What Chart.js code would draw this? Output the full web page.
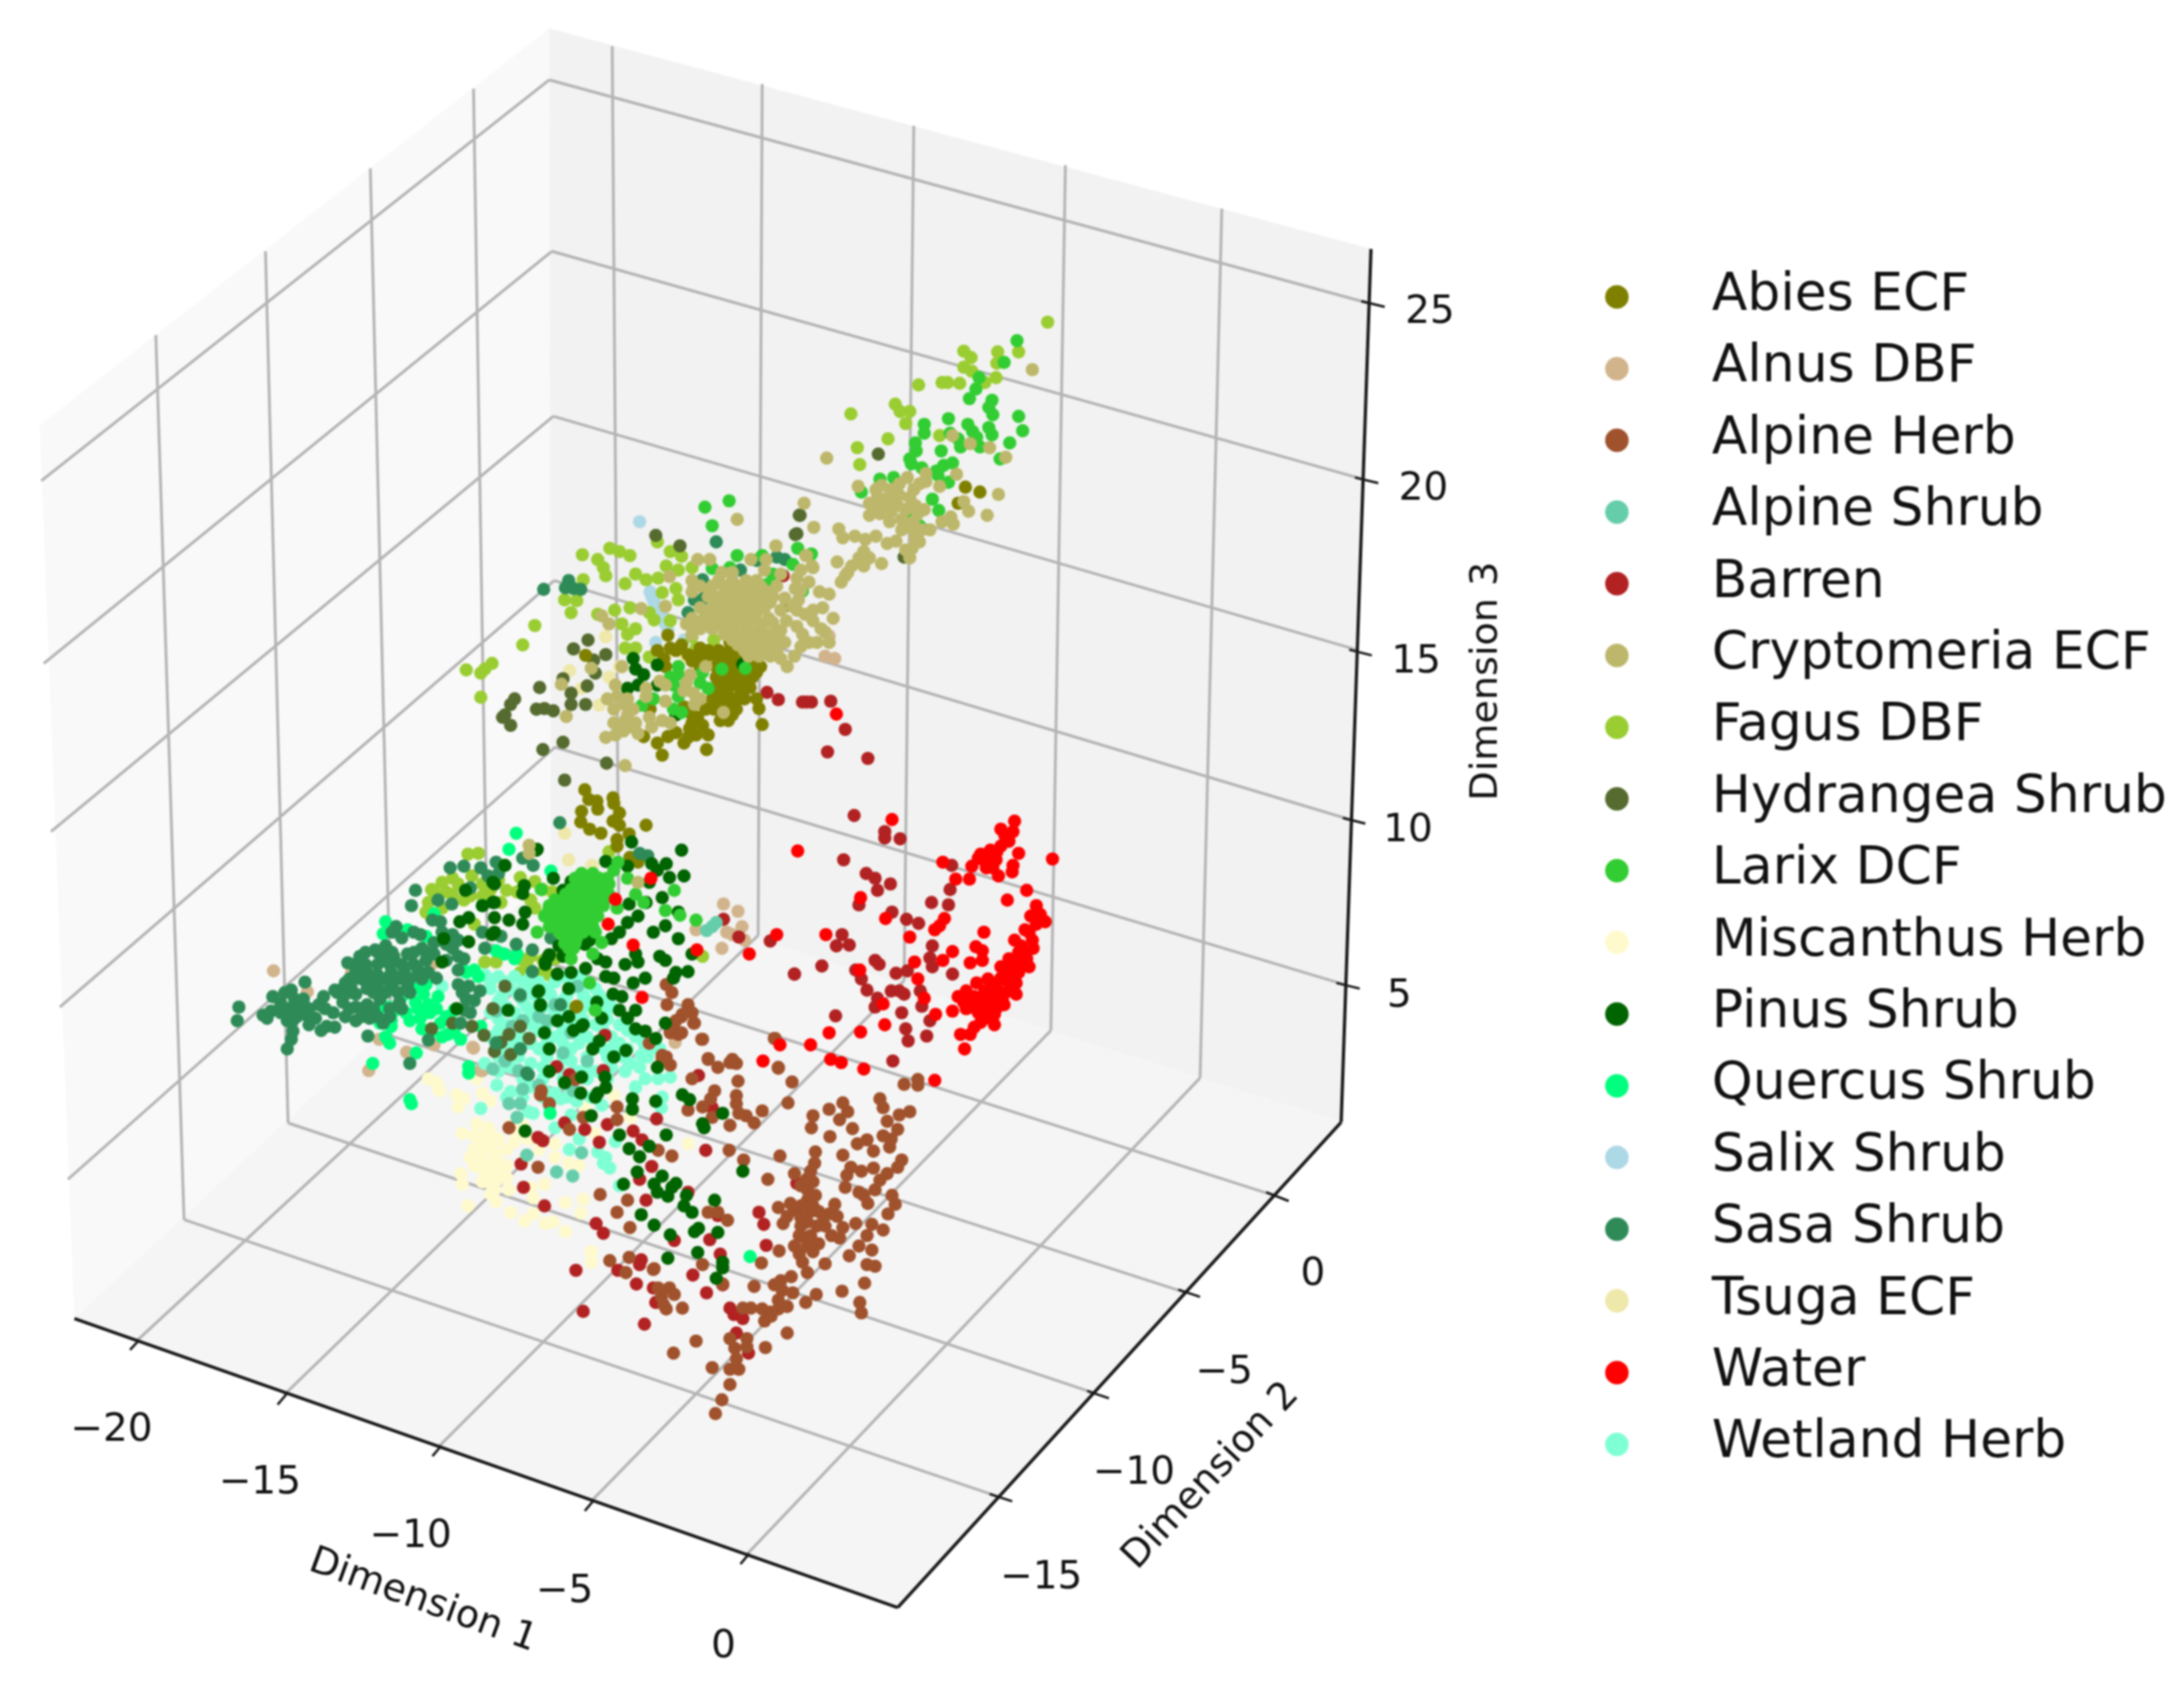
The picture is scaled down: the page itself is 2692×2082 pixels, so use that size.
<!DOCTYPE html>
<html>
<head>
<meta charset="utf-8">
<title>Dimension scatter</title>
<script src="https://cdn.jsdelivr.net/npm/chart.js@4"></script>
<style>
  html, body { margin: 0; padding: 0; background: #fff; }
  canvas { display: block; filter: blur(1px); }
</style>
</head>
<body>
<canvas id="chart" width="2692" height="2082"></canvas>
<script>
// Legend order
const categories = ['Abies ECF', 'Alnus DBF', 'Alpine Herb', 'Alpine Shrub', 'Barren', 'Cryptomeria ECF',
  'Fagus DBF', 'Hydrangea Shrub', 'Larix DCF', 'Miscanthus Herb', 'Pinus Shrub', 'Quercus Shrub',
  'Salix Shrub', 'Sasa Shrub', 'Tsuga ECF', 'Water', 'Wetland Herb'];

const dim1Ticks = ['\u221220', '\u221215', '\u221210', '\u22125', '0'];
const dim2Ticks = ['0', '\u22125', '\u221210', '\u221215'];
const dim3Ticks = ['25', '20', '15', '10', '5'];

// Point positions (image pixels)
const abiesECF = [[897,790],[870,800],[883,800],[897,800],[910,800],[850,813],[863,813],[883,813],[903,813],[927,813],
  [887,827],[903,827],[920,827],[930,827],[887,840],[903,840],[917,840],[877,853],[893,853],[910,853],[883,867],[903,867],[887,880],[900,880],
  [820,781],[807,800],[823,797],[837,793],[817,820],[930,860],[933,872],[937,892],[867,873],[857,883],[847,897],[863,893],[845,908],[830,902],
  [820,907],[807,915],[813,930],[868,923],[790,907],[798,873],[969,744],[944,798],[718,806],[1189,597],[1207,603],[1180,617],
  [717,973],[722,985],[732,987],[733,997],[713,1000],[712,1013],[723,1022],[737,1027],[752,983],[753,990],[760,1002],[752,1012],[760,1017],
  [793,1017],[772,1028],[757,1035],[757,1043],[773,1057],[783,1063],[707,1242],[706,1243],
  [855,806],[870,806],[890,806],[905,806],[918,806],[860,820],[880,820],[895,820],[912,820],[925,820],[935,820],[880,833],[895,833],[912,833],[925,833],
  [880,846],[895,846],[910,846],[922,846],[875,860],[888,860],[900,860],[915,860],[877,873],[893,873],[905,873],[885,887],[895,887],
  [830,800],[815,810],[845,805],[860,797],[840,870],[850,890],[855,905],[840,915],[870,905],[850,880]];

const alnusDBF = [[1020,782],[1015,807],[1027,810],[889,1115],[907,1124],[855,1147],[912,1143],[893,1150],[900,1153],[887,1170],[915,1160],
  [331,1198],[373,1224],[462,1283],[496,1299],[449,1322],[578,1293],[428,1200],[530,1290],[527,1190],[579,1294],[588,1322],[829,1287],[590,1322]];

const alpineHerb = [[828,1263],[837,1255],[852,1263],[833,1277],[823,1273],[863,1283],[797,1288],[818,1305],[823,1315],[813,1307],[870,1307],[882,1318],
  [897,1312],[905,1313],[907,1335],[850,1332],[878,1347],[873,1357],[863,1367],[845,1371],[875,1380],[905,1353],[905,1363],[908,1375],[897,1390],
  [917,1378],[927,1387],[937,1372],[952,1282],[957,1319],[974,1336],[969,1362],[896,1421],[914,1433],[959,1428],[944,1457],[808,1421],[825,1428],
  [1003,1423],[1002,1437],[997,1447],[977,1450],[992,1457],[993,1470],[993,1483],[1003,1477],[997,1497],[1007,1497],[993,1510],[1013,1503],[1027,1488],
  [1030,1503],[1037,1517],[1023,1527],[1033,1530],[983,1527],[997,1527],[977,1540],[993,1540],[1007,1537],[983,1550],[1000,1547],[987,1560],[993,1573],
  [1015,1562],[957,1492],[972,1487],[977,1495],[968,1503],[963,1512],[1000,1378],[998,1393],[1020,1370],[1037,1362],[1043,1373],[1033,1383],[1049,1394],
  [1021,1404],[1083,1357],[1087,1368],[1092,1385],[1107,1377],[1120,1373],[1105,1395],[1087,1403],[1097,1407],[1095,1417],[1055,1413],[1067,1408],
  [1075,1422],[1037,1427],[1110,1433],[1105,1442],[1047,1442],[1042,1452],[1040,1467],[1060,1447],[1075,1443],[1092,1450],[1083,1458],[1077,1470],
  [1063,1477],[1057,1473],[1068,1487],[1098,1477],[1102,1488],[1093,1500],[1053,1512],[1073,1513],[1087,1520],[1067,1527],[1057,1540],[1045,1552],
  [1073,1545],[1067,1563],[1077,1565],[1064,1586],[1036,1596],[1058,1610],[1060,1623],[1004,1600],[991,1610],[973,1578],[960,1583],[952,1588],[962,1595],
  [975,1598],[957,1607],[968,1615],[957,1618],[947,1622],[937,1618],[923,1617],[913,1617],[940,1633],[948,1627],[968,1648],[941,1666],[918,1655],
  [897,1655],[903,1667],[918,1665],[905,1680],[897,1693],[908,1693],[875,1691],[897,1712],[887,1731],[879,1748],[855,1658],[827,1673],[927,1590],
  [936,1561],[958,1546],[863,1563],[888,1587],[870,1498],[882,1498],[894,1508],[803,1568],[808,1592],[822,1592],[828,1600],[812,1603],[818,1618],
  [838,1617],[815,1613],[662,1352],[673,1363],[705,1333],[715,1380],[698,1395],[623,1393],[659,1442],[736,1476],[757,1367],[757,1383],[770,1483],
  [757,1498],[773,1517],[748,1558],[772,1554],[768,1573],[802,1569],[870,1308],[663,1347],[818,1215],[825,1225],[819,1240],[845,1240],[850,1250],
  [838,1252],[830,1260],[853,1263],[823,1275],[837,1275],[862,1283],[813,1303],[900,1308],[953,1282],[1113,1339],[1130,1333],[1130,1340],[900,1312],[957,1318],
  [985,1465],[1000,1460],[985,1490],[1000,1490],[985,1505],[1005,1515],[985,1515],[1000,1535],[1015,1515],[990,1530],[1020,1500]];

const alpineShrub = [[875,1143],[868,1148],[880,1138],[603,1320],[635,1322],[623,1363],[637,1363],[633,1380],[645,1427],[682,1448],[702,1453],[713,1424],
  [692,1338],[703,1347],[637,1230],[708,1217],[607,1248],[627,1267],[670,1260],[607,1287],[637,1295],
  [640,1345],[660,1340],[618,1310],[690,1300],[720,1310],[660,1255],[680,1240],[640,1260],[700,1275]];

const barren = [[963,707],[943,852],[957,861],[992,864],[998,864],[987,864],[1022,863],[1018,926],[889,1134],[908,1156],[947,1161],[977,1202],[742,1278],
  [682,1317],[740,1322],[698,1327],[692,1387],[717,1395],[745,1389],[659,1405],[665,1409],[735,1411],[777,1397],[788,1408],[806,1382],[800,1441],
  [785,1457],[867,1421],[638,1438],[641,1467],[667,1490],[793,1483],[731,1512],[740,1524],[845,1473],[882,1502],[828,1533],[872,1532],[885,1550],
  [787,1557],[785,1563],[758,1570],[706,1570],[781,1587],[851,1576],[868,1598],[888,1588],[875,1368],[858,1328],[933,1498],[939,1513],[942,1539],
  [980,1462],[791,1637],[897,1617],[902,1625],[913,1630],[905,1648],[920,1673],[805,1610],[715,1621],[802,1592],
  [1051,1005],[1089,1025],[1089,1033],[1108,1034],[1038,1060],[1066,1077],[1077,1083],[1080,1098],[1096,1090],[1057,1116],[1098,1125],[1116,1134],
  [1131,1139],[1172,1067],[1170,1097],[1168,1116],[1147,1113],[1036,1153],[1029,1167],[1045,1166],[1148,1167],[1145,1182],[1148,1193],[1173,1202],
  [1077,1185],[1082,1190],[1103,1201],[1117,1198],[1011,1192],[977,1202],[1053,1197],[1060,1208],[1067,1222],[1080,1232],[1077,1243],[1097,1223],
  [1113,1227],[1107,1223],[1133,1223],[1135,1242],[1110,1250],[1145,1260],[1028,1254],[1115,1270],[1118,1285],[1141,1279],[1099,1310],[1040,898],[1068,934]];

const cryptomeriaECF = [[1272,451],[1173,533],[1195,543],[1219,548],[1239,560],[1017,561],[1178,581],[1157,596],[1056,596],[1230,606],[1187,615],[1193,627],
  [1216,632],[1171,634],[1174,643],[1160,640],[1145,650],[1117,585],[1140,580],[1140,590],[1132,593],[1107,593],[1097,600],[1078,600],[1070,617],[1080,610],
  [1093,610],[1107,607],[1120,610],[1127,620],[1138,625],[1070,632],[1083,630],[1097,627],[1110,637],[1120,647],[1127,660],[1123,673],[1132,665],[1032,649],
  [1037,660],[1052,658],[1065,662],[1078,658],[1092,667],[1103,664],[1063,677],[1057,685],[1070,685],[1048,695],[1085,692],[989,617],[1001,647],[991,682],
  [999,695],[1063,695],[906,637],[954,670],[992,682],[1000,697],[1043,703],[1040,707],[980,710],[978,723],[1008,727],[982,737],[1012,747],[980,750],[967,763],
  [1000,763],[980,770],[1010,773],[987,780],[1015,777],[857,687],[872,687],[923,687],[942,687],[887,703],[900,703],[850,713],[883,713],[900,713],[917,713],
  [930,713],[850,727],[873,727],[893,727],[910,727],[927,727],[943,727],[883,740],[897,740],[913,740],[930,740],[947,740],[867,753],[883,753],[897,753],
  [913,753],[930,753],[843,767],[857,767],[873,767],[887,767],[903,767],[920,767],[937,767],[850,780],[890,780],[910,780],[927,780],[943,780],[953,780],
  [907,793],[920,793],[933,793],[950,793],[920,807],[933,807],[947,807],[977,807],[822,708],[852,722],[817,745],[787,748],[738,757],[747,767],[763,820],
  [725,822],[688,842],[694,882],[755,843],[757,857],[753,873],[767,867],[777,873],[753,890],[767,887],[780,890],[783,903],[797,883],[813,887],[823,890],
  [810,838],[817,843],[793,847],[793,857],[817,863],[843,840],[848,830],[852,853],[853,867],[867,820],[889,877],[743,908],[767,943],[648,1042],[648,1052],
  [783,1088],
  [860,720],[875,720],[890,720],[905,720],[920,720],[935,720],[870,733],[885,733],[900,733],[917,733],[935,733],[950,733],[860,747],[875,747],[890,747],[905,747],
  [920,747],[940,747],[850,760],[865,760],[880,760],[895,760],[910,760],[925,760],[945,760],[860,773],[875,773],[897,773],[918,773],[935,773],[900,787],[915,787],
  [930,787],[945,787],[955,787],[915,800],[930,800],[940,800],[955,800],[770,880],[765,900],[745,860],[770,860],[755,905],[800,895],[840,850],[860,860],[775,895],
  [1085,595],[1100,615],[1115,625],[1095,640],[1105,620],[1075,625],[1130,630],[1135,650],[1125,640],[1110,650],[1085,620],[1125,600],[1120,685],[1115,675],
  [955,720],[965,735],[960,750],[950,765],[960,775],[965,790],[940,700],[960,705],[975,745],[990,755],[1000,750],[1005,790],[995,790],[985,795],[1020,790],
  [968,820],[960,810],[985,700],[985,725],[995,715],[1030,690],[1035,715],[1020,730],[1025,760]];

const fagusDBF = [[1291,392],[1187,428],[1196,436],[1229,429],[1255,429],[1228,443],[1187,448],[1197,453],[1227,461],[1213,467],[1131,470],[1160,467],[1167,467],
  [1182,468],[1102,494],[1108,503],[1120,503],[1115,518],[1047,506],[1093,537],[1055,548],[1058,569],[1157,533],
  [714,681],[748,673],[760,677],[773,682],[733,687],[740,697],[743,707],[715,712],[692,737],[707,738],[700,753],[655,769],[640,793],[570,824],[588,828],
  [602,816],[593,823],[588,858],[733,755],[754,750],[773,747],[797,753],[803,762],[763,767],[780,773],[770,780],[767,797],[780,797],[797,808],[767,717],
  [780,705],[793,712],[808,710],[818,695],[823,677],[837,683],[833,700],[850,697],[813,728],[830,723],[833,737],[823,763],[850,783],[855,797],[877,787],
  [883,740],[807,665],[527,1097],[540,1088],[553,1083],[577,1080],[590,1090],[600,1097],[620,1098],[613,1113],[637,1082],[655,1087],[527,1133],[580,1140],
  [593,1187],[607,1187],[637,1200],[665,1097],[673,1203],[523,1113],[680,1183],[710,1253],[572,1053],[585,1052],[553,1103],[567,1110],[863,1180],[747,1050],
  [667,1197],[650,1180],[637,1183],[633,1100],[677,1100],
  [530,1100],[545,1100],[540,1120],[600,1110],[640,1095],[650,1110],[655,1120],[520,1125],[560,1090],[575,1105],[590,1105],[610,1085],[640,1210],[655,1205],[645,1190],[665,1185]];

const hydrangeaShrub = [[1081,556],[1113,684],[984,632],[980,655],[983,632],[978,656],[835,670],[805,657],[721,787],[703,798],[743,805],[728,812],[730,828],
  [690,835],[661,846],[720,844],[700,853],[700,867],[718,867],[630,860],[625,867],[618,880],[615,883],[625,893],[657,873],[667,872],[678,875],[690,914],
  [665,923],[744,940],[692,961],[618,1217],[603,1245],[637,1267],[648,1282],[592,1278],[625,1302],[605,1298],[623,1277],[613,1287],[527,1270],[553,1263],[577,1267]];

const larixDCF = [[1253,415],[1237,442],[1206,461],[1202,475],[1194,487],[1222,489],[1218,498],[1223,507],[1168,512],[1255,509],[1138,519],[1138,530],[1192,519],
  [1198,528],[1218,523],[1222,532],[1260,527],[1170,530],[1180,537],[1183,547],[1207,547],[1203,535],[1244,542],[1127,542],[1128,552],[1120,562],[1122,568],
  [1159,552],[1232,562],[1173,567],[1162,570],[1153,577],[1155,582],[1135,573],[1168,591],[1083,587],[1100,585],[1060,603],[1148,612],[1156,626],[1132,645],[1120,627],
  [866,622],[896,614],[875,645],[906,682],[937,682],[981,673],[998,680],[975,693],[950,705],[943,718],[875,698],[897,697],[987,726],
  [833,820],[833,830],[823,833],[827,843],[833,857],[827,873],[788,868],[802,860],[863,827],[860,840],[870,847],[887,823],[916,822],[837,877],
  [713,1077],[727,1077],[707,1090],[720,1090],[733,1090],[747,1090],[693,1103],[707,1103],[720,1103],[733,1103],[747,1103],[673,1117],[687,1117],[700,1117],
  [713,1117],[727,1117],[740,1117],[667,1130],[680,1130],[693,1130],[707,1130],[720,1130],[733,1130],[673,1143],[687,1143],[700,1143],[713,1143],[727,1143],
  [693,1157],[707,1157],[697,1170],[703,1170],[700,1183],[758,1063],[753,1073],[770,1083],[780,1103],[790,1113],[817,1123],[835,1129],[855,1135],[828,1098],
  [727,1177],[738,1163],[658,1150],[663,1097],[723,1213],[730,1247],[757,1120],
  [700,1097],[713,1097],[727,1097],[740,1097],[680,1110],[695,1110],[710,1110],[725,1110],[740,1110],[672,1123],[687,1123],[700,1123],[713,1123],[727,1123],
  [675,1137],[690,1137],[705,1137],[720,1137],[685,1150],[700,1150],[715,1150],[730,1150],[705,1083],[720,1083],[735,1083],[745,1083],[692,1164],[705,1164]];

const miscanthusHerb = [[523,1332],[535,1343],[558,1352],[567,1357],[560,1367],[583,1332],[590,1350],[600,1360],[583,1388],[565,1400],[580,1403],[597,1393],[610,1407],
  [593,1420],[587,1430],[580,1440],[600,1437],[613,1447],[597,1460],[610,1457],[563,1450],[565,1463],[620,1420],[630,1410],[647,1407],[633,1403],[572,1490],[607,1485],
  [625,1498],[642,1509],[623,1470],[653,1480],[653,1500],[668,1512],[678,1510],[693,1522],[693,1486],[715,1482],[712,1499],[667,1463],[680,1413],[697,1437],[710,1440],
  [725,1547],[725,1560],[845,1413],[717,1367],[753,1353],[730,1400],[773,1380],[680,1430],[640,1390],[650,1467],[600,1400],[590,1405],[605,1425],[590,1445],[600,1450],
  [620,1440],[605,1470],[580,1420],[533,1337],[537,1347],[590,1415],[575,1430],[605,1410],[610,1435],[590,1460],[600,1475],[620,1455],[640,1435],[625,1390],[660,1420]];

const pinusShrub = [[777,810],[780,823],[790,830],[770,847],[783,843],[807,818],[807,843],[913,817],[830,880],
  [837,1048],[775,1038],[800,1065],[818,1065],[743,1062],[770,1068],[807,1073],[822,1082],[840,1080],[797,1088],[700,1087],[690,1098],[678,1083],[813,1107],[793,1113],
  [772,1115],[783,1130],[770,1138],[760,1150],[833,1125],[817,1142],[802,1150],[833,1158],[750,1158],[723,1160],[712,1163],[810,1180],[817,1185],[780,1177],[767,1190],
  [783,1187],[792,1207],[777,1213],[830,1200],[845,1199],[827,1207],[850,1177],[743,1187],[733,1183],[743,1205],[753,1207],[718,1195],[700,1200],[683,1202],[685,1167],
  [690,1180],[672,1180],[668,1190],[752,1227],[763,1230],[760,1247],[780,1247],[770,1257],[780,1270],[792,1273],[805,1282],[817,1263],[732,1237],[738,1257],[715,1265],
  [703,1272],[697,1255],[683,1260],[667,1275],[697,1220],[659,1224],[662,1241],[622,1247],[642,1092],[640,1102],[643,1125],[640,1140],[623,1135],[605,1132],[605,1113],
  [605,1090],[618,1067],[658,1047],[605,1150],[673,1295],[727,1295],[735,1285],[768,1297],[753,1305],
  [569,1098],[603,1088],[590,1117],[603,1113],[562,1137],[573,1132],[542,1158],[573,1162],[602,1153],[540,1187],[558,1245],[668,1187],[673,1178],[660,1223],[662,1240],
  [673,1323],[692,1337],[712,1350],[713,1267],[687,1167],[717,1165],[657,1048],[713,1330],[742,1330],[743,1343],[733,1350],[730,1355],[807,1318],[725,1378],[643,1397],
  [760,1402],[776,1357],[776,1370],[805,1360],[838,1352],[847,1358],[888,1375],[863,1388],[865,1393],[818,1402],[772,1419],[785,1429],[797,1416],[782,1448],[765,1463],
  [813,1453],[803,1463],[807,1473],[820,1478],[830,1462],[825,1467],[843,1477],[840,1490],[850,1498],[878,1483],[787,1501],[803,1514],[823,1526],[853,1522],[858,1518],
  [882,1523],[857,1548],[820,1555],[888,1560],[888,1567],[880,1580],[913,1447]];

const quercusShrub = [[632,1027],[623,1047],[470,1137],[467,1152],[497,1147],[675,1074],[470,1183],[477,1188],[460,1247],[473,1243],[477,1260],[477,1267],[463,1263],
  [517,1227],[507,1237],[523,1240],[500,1260],[513,1257],[533,1245],[538,1263],[547,1277],[563,1283],[588,1267],[475,1288],[508,1300],[454,1313],[573,1317],[607,1173],
  [630,1183],[590,1117],[570,1200],[580,1197],[520,1155],[530,1127],[555,1247],[500,1358],[502,1363],[674,1375],[922,1553],[617,1177],[633,1177],[573,1325],
  [480,1248],[495,1250],[510,1245],[525,1250],[515,1270],[525,1275],[540,1280],[555,1275],[470,1280],[490,1230],[505,1220],[520,1215],[535,1230],[545,1255],[565,1195],[585,1205]];

const salixShrub = [[785,640],[798,727],[803,740],[810,753],[817,767],[805,790],[840,787],[867,770],[800,733],[807,747],[813,760],[820,775]];

const sasaShrub = [[666,724],[697,713],[693,722],[703,723],[712,724],[880,665],[863,712],[853,737],[865,735],[845,753],[910,700],[930,688],[955,684],[965,687],[933,730],
  [686,1014],[785,1052],[795,1055],[288,1243],[286,1260],[318,1253],[328,1248],[340,1238],[340,1250],[323,1257],[353,1222],[357,1233],[368,1233],[370,1252],[370,1212],
  [348,1260],[355,1273],[353,1283],[348,1295],[387,1240],[383,1257],[393,1230],[397,1267],[407,1268],[407,1222],[420,1213],[423,1188],[438,1180],[457,1172],[470,1167],
  [483,1143],[490,1157],[480,1180],[497,1177],[467,1183],[433,1200],[417,1220],[427,1217],[447,1200],[460,1203],[477,1200],[493,1200],[433,1227],[447,1220],[460,1217],
  [477,1217],[497,1217],[417,1237],[433,1243],[447,1240],[463,1233],[487,1237],[433,1260],[450,1257],[467,1263],[510,1197],[523,1200],[533,1207],[513,1153],[530,1163],
  [530,1177],[553,1153],[553,1170],[567,1183],[560,1197],[573,1217],[587,1223],[570,1233],[568,1247],[563,1263],[550,1070],[567,1068],[588,1070],[607,1063],[597,1080],
  [610,1077],[507,1098],[502,1117],[535,1110],[552,1115],[528,1135],[538,1137],[575,1095],[590,1150],[593,1170],[613,1155],[632,1165],[652,1172],[652,1199],[675,1157],
  [640,1058],[653,1067],[448,1279],[523,1284],[500,1313],[637,1228],[687,1240],[647,1327],[645,1325],[637,1295],[607,1288],
  [430,1190],[445,1190],[460,1190],[475,1190],[490,1190],[505,1190],[425,1208],[440,1208],[455,1208],[470,1208],[485,1208],[500,1208],[515,1208],[410,1225],[425,1225],
  [455,1225],[470,1225],[485,1225],[500,1225],[425,1245],[440,1245],[455,1245],[475,1245],[490,1245],[420,1255],[440,1255],[460,1255],[475,1255],[445,1175],[460,1175],
  [478,1175],[505,1175],[520,1175],[478,1150],[505,1150],[515,1170],[520,1185],[540,1150],[545,1165],[560,1160],[560,1180],[545,1185],[560,1215],[565,1225],[580,1235],
  [575,1250],[330,1230],[345,1225],[350,1245],[360,1255],[375,1245],[395,1245],[405,1250],[355,1260],[360,1240],[375,1265],[390,1272]];

const tsugaECF = [[743,783],[698,825],[747,833],[735,868],[817,808],[842,807],[760,820],[713,847],[692,1027],[697,1060],[726,1067]];

const water = [[1029,879],[981,1049],[799,1083],[755,1109],[746,1140],[777,1166],[856,1172],[955,1153],[921,1177],[788,1231],[959,1290],[997,1290],[938,1310],
  [1098,1010],[1297,1059],[1161,1063],[1059,1107],[1090,1133],[1163,1133],[1157,1142],[1151,1147],[1120,1156],[1016,1153],[1173,1174],[1161,1185],[1126,1187],[1130,1208],
  [1058,1197],[1138,1232],[1087,1239],[1152,1252],[1173,1248],[1089,1265],[1059,1274],[1020,1275],[1022,1308],[1035,1312],[1063,1320],[1151,1334],
  [1250,1012],[1233,1022],[1248,1025],[1243,1037],[1233,1043],[1208,1053],[1220,1048],[1213,1062],[1227,1060],[1223,1070],[1230,1080],[1255,1052],[1248,1067],[1247,1075],
  [1197,1068],[1194,1084],[1177,1084],[1265,1098],[1241,1110],[1277,1117],[1270,1130],[1288,1137],[1277,1140],[1263,1147],[1250,1160],[1258,1167],[1273,1170],[1265,1183],
  [1243,1183],[1233,1193],[1253,1190],[1268,1193],[1247,1203],[1252,1213],[1233,1207],[1212,1150],[1202,1168],[1210,1173],[1195,1188],[1210,1185],[1217,1208],[1203,1213],
  [1190,1223],[1180,1230],[1200,1230],[1213,1223],[1230,1223],[1243,1223],[1252,1227],[1237,1240],[1223,1233],[1213,1240],[1197,1243],[1187,1237],[1205,1250],[1227,1245],
  [1213,1257],[1225,1265],[1200,1268],[1183,1277],[1195,1277],[1188,1295],[1208,1262],
  [1195,1235],[1210,1232],[1222,1222],[1235,1232],[1190,1245],[1205,1240],[1225,1252],[1215,1248],[1240,1210],[1255,1200],[1245,1192],[1260,1175],[1272,1160],[1282,1128],
  [1268,1150],[1255,1175],[1240,1195],[1225,1215],[1238,1030],[1228,1050],[1215,1070],[1205,1058],[1220,1058]];

const wetlandHerb = [[595,1205],[610,1205],[630,1205],[650,1205],[690,1205],[710,1205],[600,1220],[625,1220],[650,1220],[670,1220],[700,1220],[730,1220],
  [610,1235],[640,1235],[660,1235],[690,1235],[720,1235],[740,1235],[600,1250],[630,1250],[650,1250],[680,1250],[705,1250],[740,1250],[620,1265],[650,1265],[670,1265],
  [700,1265],[730,1265],[760,1265],[600,1280],[640,1280],[680,1280],[720,1280],[750,1280],[780,1280],[620,1295],[660,1295],[700,1295],[740,1295],[770,1295],[800,1295],[810,1295],
  [593,1313],[610,1323],[608,1340],[625,1348],[650,1313],[650,1342],[667,1347],[647,1373],[680,1350],[700,1310],[707,1323],[733,1323],[753,1293],[767,1323],[773,1313],[787,1303],
  [792,1332],[780,1342],[808,1332],[823,1330],[813,1355],[812,1368],[738,1365],[588,1369],[653,1375],[700,1377],[680,1393],[710,1407],[698,1420],[733,1423],[743,1430],[748,1443],
  [740,1437],[755,1410],[760,1465],[633,1380],[687,1357],[707,1360],[700,1343],[673,1367],[540,1217],[593,1203],[788,1305],[780,1343],
  [600,1212],[620,1212],[640,1212],[660,1212],[680,1212],[700,1212],[720,1212],[615,1228],[635,1228],[655,1228],[675,1228],[695,1228],[715,1228],[735,1228],[620,1243],[645,1243],
  [665,1243],[695,1243],[715,1243],[730,1243],[750,1243],[610,1258],[635,1258],[660,1258],[685,1258],[715,1258],[745,1258],[610,1272],[630,1272],[660,1272],[690,1272],[710,1272],
  [740,1272],[770,1272],[610,1288],[630,1288],[650,1288],[670,1288],[690,1288],[710,1288],[730,1288],[760,1288],[790,1288],[610,1305],[635,1305],[670,1305],[690,1305],[720,1305],
  [745,1305],[765,1305],[795,1305],[625,1318],[665,1318],[685,1318],[720,1318],[750,1318],[785,1318],[640,1332],[665,1332],[690,1332],[720,1332],[745,1332],[620,1355],[640,1355],
  [665,1355],[695,1355],[725,1355]];

// Series arrays in legend order, same index as categories
const seriesData = [abiesECF, alnusDBF, alpineHerb, alpineShrub, barren, cryptomeriaECF, fagusDBF, hydrangeaShrub, larixDCF,
  miscanthusHerb, pinusShrub, quercusShrub, salixShrub, sasaShrub, tsugaECF, water, wetlandHerb];
const seriesColors = ['#808000', '#d2b48c', '#a0522d', '#66cdaa', '#b22222', '#bdb76b', '#9acd32', '#556b2f', '#32cd32',
  '#fffacd', '#006400', '#00ff7f', '#add8e6', '#2e8b57', '#eee8aa', '#ff0000', '#7fffd4'];
// Smaller draws on top
const seriesOrder = [7, 14, 10, 11, 12, 3, 13, 8, 4, 16, 5, 9, 15, 6, 15, 1, 12];

// 3D box drawn on the chart scales
const paneLeft = [[41,520],[673,27],[675,1078],[84,1630]];
const paneRight = [[673,27],[1692,301],[1655,1386],[675,1078]];
const paneFloor = [[84,1630],[675,1078],[1655,1386],[1105,1989]];
const gridLines = [
  [[751,49],[759,1104]], [[937,96],[932,1154]], [[1125,148],[1113,1210]], [[1313,197],[1295,1272]], [[1507,251],[1480,1331]],
  [[579,102],[596,1164]], [[451,201],[477,1279]], [[321,304],[349,1387]], [[185,408],[220,1507]],
  [[43,589],[673,91]], [[46,816],[676,304]], [[55,1025],[678,509]], [[66,1243],[679,713]], [[76,1457],[680,920]],
  [[673,91],[1691,369]], [[676,304],[1682,587]], [[678,509],[1674,799]], [[679,713],[1666,1010]], [[680,920],[1659,1215]],
  [[161,1658],[759,1104]], [[344,1725],[932,1154]], [[536,1789],[1113,1210]], [[725,1857],[1295,1272]], [[918,1923],[1480,1331]],
  [[596,1164],[1572,1477]], [[477,1279],[1463,1598]], [[349,1387],[1350,1723]], [[220,1507],[1229,1851]]
];
const axisLines = [[[84,1630],[1105,1989]], [[1105,1989],[1655,1386]], [[1655,1386],[1692,301]]];
const tickLines = [
  [[164,1657],[153,1669]], [[347,1724],[336,1737]], [[539,1788],[528,1801]], [[728,1856],[717,1869]], [[921,1922],[910,1935]],
  [[1562,1473],[1590,1484]], [[1453,1594],[1480,1603]], [[1340,1720],[1367,1729]], [[1219,1848],[1247,1857]],
  [[1680,366],[1709,373]], [[1672,585],[1701,592]], [[1665,799],[1693,806]], [[1657,1008],[1685,1015]], [[1649,1213],[1678,1220]]
];
const dim1TickPos = [[130,1769],[314,1835],[501,1901],[692,1970],[889,2038]];
const dim2TickPos = [[1620,1576],[1510,1698],[1398,1823],[1283,1953]];
const dim3TickPos = [[1765,380],[1757,600],[1748,815],[1738,1024],[1727,1230]];
const axisTitles = [
  { text: 'Dimension 1', at: [516,1981], deg: 20 },
  { text: 'Dimension 2', at: [1494,1826], deg: -47 },
  { text: 'Dimension 3', at: [1836,838], deg: -90 }
];

const boxPlugin = {
  id: 'box3d',
  beforeDatasetsDraw(chart) {
    const { ctx, scales: { x, y } } = chart;
    const px = p => [x.getPixelForValue(p[0]), y.getPixelForValue(p[1])];
    const fillPane = (pts, color) => {
      ctx.beginPath();
      pts.map(px).forEach((p, i) => i ? ctx.lineTo(p[0], p[1]) : ctx.moveTo(p[0], p[1]));
      ctx.closePath();
      ctx.fillStyle = color;
      ctx.fill();
    };
    const strokeAll = (lines, color, width) => {
      ctx.strokeStyle = color;
      ctx.lineWidth = width;
      lines.forEach(l => {
        const a = px(l[0]), b = px(l[1]);
        ctx.beginPath();
        ctx.moveTo(a[0], a[1]);
        ctx.lineTo(b[0], b[1]);
        ctx.stroke();
      });
    };
    ctx.save();
    fillPane(paneLeft, '#f9f9f9');
    fillPane(paneRight, '#f2f2f2');
    fillPane(paneFloor, '#f5f5f5');
    strokeAll(gridLines, '#b4b4b4', 3.5);
    strokeAll(axisLines, '#1a1a1a', 4);
    strokeAll(tickLines, '#1a1a1a', 3);
    ctx.restore();
  },
  afterDatasetsDraw(chart) {
    const { ctx, scales: { x, y } } = chart;
    ctx.save();
    ctx.fillStyle = '#111';
    ctx.textAlign = 'center';
    ctx.textBaseline = 'middle';
    ctx.font = '48px "DejaVu Sans"';
    const tickText = (labels, pos) => labels.forEach((t, i) => {
      ctx.fillText(t, x.getPixelForValue(pos[i][0]), y.getPixelForValue(pos[i][1]));
    });
    tickText(dim1Ticks, dim1TickPos);
    tickText(dim2Ticks, dim2TickPos);
    tickText(dim3Ticks, dim3TickPos);
    ctx.font = '47px "DejaVu Sans"';
    axisTitles.forEach(t => {
      ctx.save();
      ctx.translate(x.getPixelForValue(t.at[0]), y.getPixelForValue(t.at[1]));
      ctx.rotate(t.deg * Math.PI / 180);
      ctx.fillText(t.text, 0, 0);
      ctx.restore();
    });
    // legend, placed by hand because the marker-to-text gap is wider than the built-in one allows
    ctx.textAlign = 'left';
    ctx.textBaseline = 'alphabetic';
    ctx.font = '64px "DejaVu Sans"';
    categories.forEach((name, i) => {
      const cy = 366 + i * 88.4;
      ctx.fillStyle = seriesColors[i];
      ctx.beginPath();
      ctx.arc(1993, cy, 14.5, 0, Math.PI * 2);
      ctx.fill();
      ctx.fillStyle = '#111';
      ctx.fillText(name, 2110, cy + 16);
    });
    ctx.restore();
  }
};

new Chart(document.getElementById('chart'), {
  type: 'scatter',
  data: {
    datasets: categories.map((name, i) => ({
      label: name,
      data: seriesData[i],
      backgroundColor: seriesColors[i],
      pointRadius: 8.2,
      pointBorderWidth: 0,
      order: seriesOrder[i]
    }))
  },
  options: {
    responsive: false,
    animation: false,
    layout: { padding: 0 },
    plugins: { legend: { display: false }, tooltip: { enabled: false } },
    scales: {
      x: { type: 'linear', display: false, min: 0, max: 2692 },
      y: { type: 'linear', display: false, min: 0, max: 2082, reverse: true }
    }
  },
  plugins: [boxPlugin]
});
</script>
</body>
</html>
